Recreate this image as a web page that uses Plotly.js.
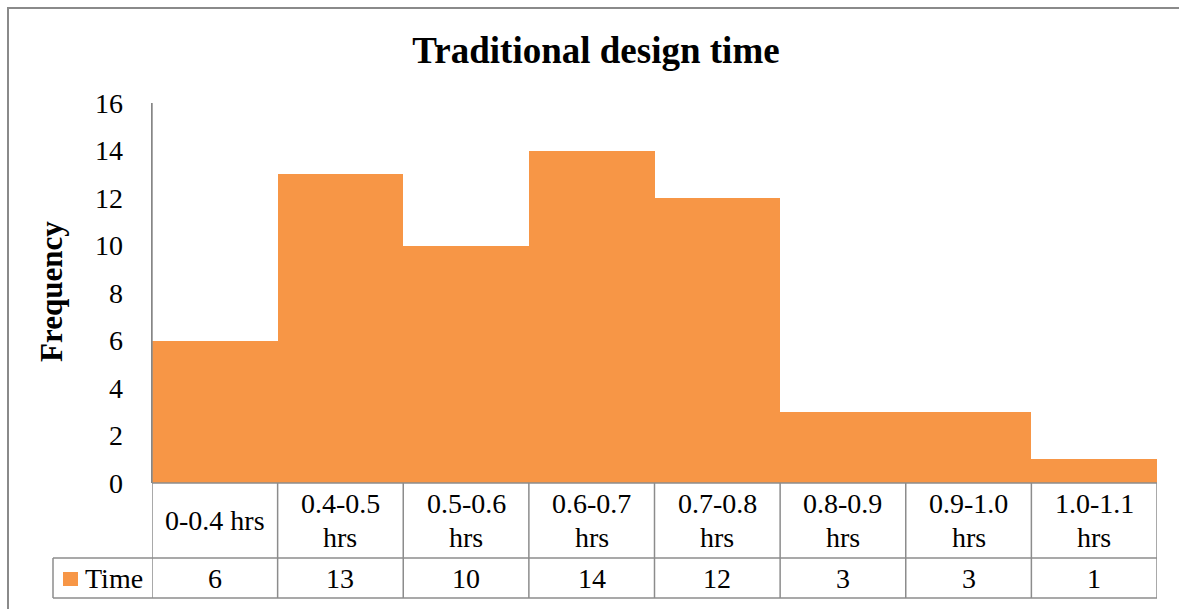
<!DOCTYPE html>
<html>
<head>
<meta charset="utf-8">
<script src="https://cdn.plot.ly/plotly-3.0.1.min.js"></script>
<style>
html,body{margin:0;padding:0;background:#fff;}
#chart{width:1179px;height:609px;}
</style>
</head>
<body>
<div id="chart"></div>
<script>
// ---- data ----
var categories = ["0-0.4 hrs", "0.4-0.5 hrs", "0.5-0.6 hrs", "0.6-0.7 hrs", "0.7-0.8 hrs", "0.8-0.9 hrs", "0.9-1.0 hrs", "1.0-1.1 hrs"];
var timeValues = [6, 13, 10, 14, 12, 3, 3, 1];
var seriesName = "Time";
var yTicks = [0, 2, 4, 6, 8, 10, 12, 14, 16];
var chartTitle = "Traditional design time";
var yTitle = "Frequency";

// ---- geometry helpers ----
var W = 1179, H = 609;
var L = 152, R = 1157, T = 103, B = 483;
var FONT = '"Liberation Serif", "Times New Roman", serif';
var BAR = '#F79646';
var GRID = '#8c8c8c';
function px(x) { return (x - L) / (R - L); }
function py(y) { return (B - y) / (B - T); }

var n = categories.length;
var rowMid = 558, rowBot = 598, colLeft = 53;

var shapes = [];
var annotations = [];

// outer border
shapes.push({type: 'rect', xref: 'paper', yref: 'paper', x0: px(8), x1: px(1300), y0: py(8), y1: py(700),
  line: {color: '#8a8a8a', width: 2}, fillcolor: 'rgba(0,0,0,0)', layer: 'below'});

// table horizontal lines
shapes.push({type: 'line', xref: 'x', yref: 'paper', x0: -0.5, x1: n - 0.5, y0: py(B), y1: py(B), line: {color: GRID, width: 1.5}});
shapes.push({type: 'line', xref: 'paper', yref: 'paper', x0: px(colLeft), x1: 1, y0: py(rowMid), y1: py(rowMid), line: {color: GRID, width: 1.5}});
shapes.push({type: 'line', xref: 'paper', yref: 'paper', x0: px(colLeft), x1: 1, y0: py(rowBot), y1: py(rowBot), line: {color: GRID, width: 1.5}});
// table vertical lines
for (var i = 0; i <= n; i++) {
  shapes.push({type: 'line', xref: 'x', yref: 'paper', x0: i - 0.5, x1: i - 0.5, y0: i === 0 ? 1 : py(B), y1: py(rowBot), line: {color: GRID, width: 1.5}});
}
shapes.push({type: 'line', xref: 'paper', yref: 'paper', x0: px(colLeft), x1: px(colLeft), y0: py(rowMid), y1: py(rowBot), line: {color: GRID, width: 1.5}});
// legend key
shapes.push({type: 'rect', xref: 'paper', yref: 'paper', x0: px(63), x1: px(78), y0: py(572), y1: py(586), line: {width: 0}, fillcolor: BAR});

// category labels and values
for (var j = 0; j < n; j++) {
  var lab = categories[j];
  var parts = lab.length > 9 ? [lab.slice(0, lab.lastIndexOf(' ')), lab.slice(lab.lastIndexOf(' ') + 1)] : [lab];
  var ys = parts.length === 2 ? [503, 537] : [520];
  for (var k = 0; k < parts.length; k++) {
    annotations.push({xref: 'x', yref: 'paper', x: j, y: py(ys[k]), text: parts[k], showarrow: false,
      xanchor: 'center', yanchor: 'middle', font: {family: FONT, size: 28, color: '#000'}});
  }
  annotations.push({xref: 'x', yref: 'paper', x: j, y: py(578), text: String(timeValues[j]), showarrow: false,
    xanchor: 'center', yanchor: 'middle', font: {family: FONT, size: 28, color: '#000'}});
}
annotations.push({xref: 'paper', yref: 'paper', x: px(83), y: py(578), text: seriesName, showarrow: false,
  xanchor: 'left', yanchor: 'middle', font: {family: FONT, size: 28, color: '#000'}});
// y axis title
annotations.push({xref: 'paper', yref: 'paper', x: px(51), y: py(292), text: '<b>' + yTitle + '</b>', showarrow: false,
  textangle: -90, xanchor: 'center', yanchor: 'middle', font: {family: FONT, size: 31, color: '#000'}});

var trace = {
  type: 'bar', x: categories, y: timeValues, name: seriesName,
  marker: {color: BAR, line: {width: 0}}, hoverinfo: 'x+y'
};

var layout = {
  width: W, height: H,
  margin: {l: L, r: W - R, t: T, b: H - B, pad: 0},
  paper_bgcolor: '#fff', plot_bgcolor: '#fff',
  showlegend: false, bargap: 0,
  title: {text: '<b>' + chartTitle + '</b>', x: 596 / W, xanchor: 'center', xref: 'container',
    y: 1 - 50 / H, yanchor: 'middle', yref: 'container', font: {family: FONT, size: 37, color: '#000'}},
  xaxis: {range: [-0.5, n - 0.5], showticklabels: false, showgrid: false, zeroline: false, showline: false, ticks: '', fixedrange: true},
  yaxis: {range: [0, 16], tickvals: yTicks, ticktext: yTicks.map(String), showgrid: false, zeroline: false,
    showline: true, linecolor: '#868686', linewidth: 1.5, ticks: '', ticklabelstandoff: 22,
    tickfont: {family: FONT, size: 28, color: '#000'}, fixedrange: true},
  shapes: shapes, annotations: annotations
};

Plotly.newPlot('chart', [trace], layout, {displayModeBar: false, staticPlot: true});
</script>
</body>
</html>
